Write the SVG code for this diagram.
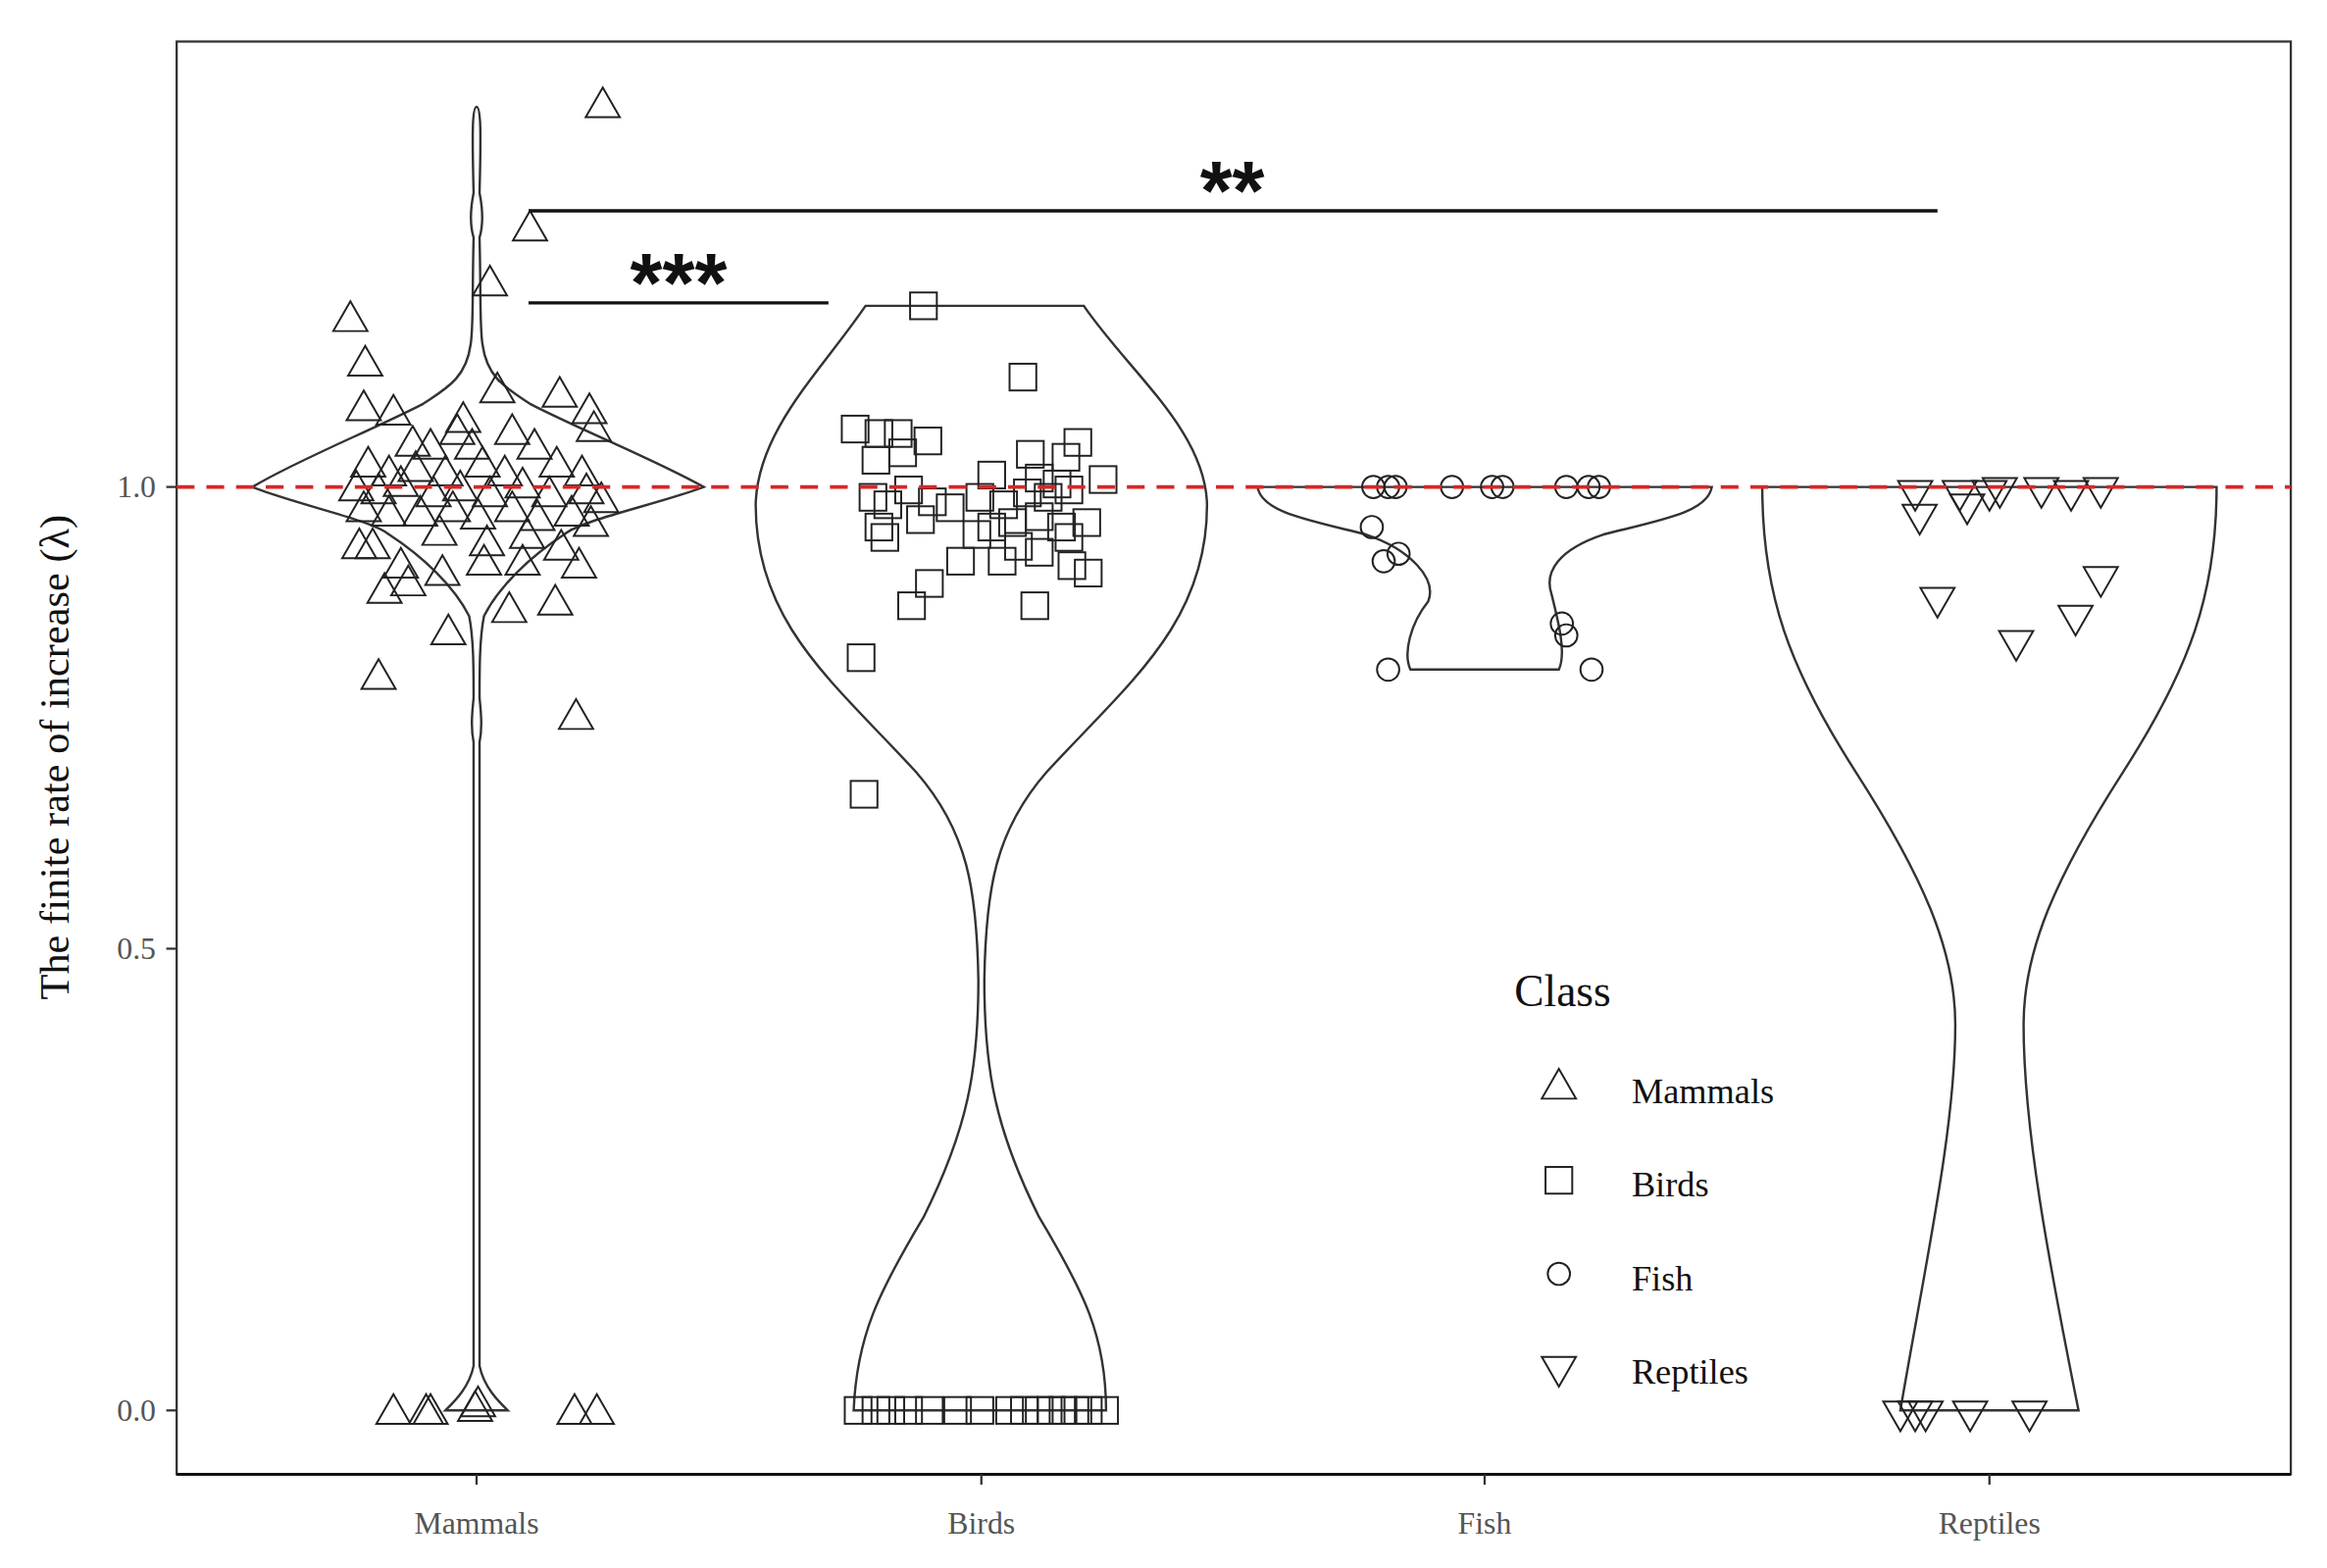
<svg xmlns="http://www.w3.org/2000/svg" xmlns:xlink="http://www.w3.org/1999/xlink" width="2373" height="1599" viewBox="0 0 2373 1599">
<style>
.ax{font-family:"Liberation Serif",serif;fill:#555;font-size:21px}
.lab{font-family:"Liberation Serif",serif;fill:#111}
.v{fill:none;stroke:#333;stroke-width:1.6}
.p{fill:none;stroke:#222;stroke-width:1.3}
.br{stroke:#111;stroke-width:2.2}
.st{font-family:"Liberation Sans",sans-serif;font-weight:bold;font-size:56px;fill:#111}
</style>
<defs>
<polygon id="tu" class="p" points="0,-11 -11.5,9 11.5,9"/>
<polygon id="td" class="p" points="0,11 -11.5,-9 11.5,-9"/>
<rect id="sq" class="p" x="-9" y="-9" width="18" height="18"/>
<circle id="ci" class="p" r="7.5"/>
</defs>
<rect width="2373" height="1599" fill="#fff"/>
<g transform="scale(1.514)">
<g id="axes">
<rect x="119" y="28" width="1424" height="965" fill="none" stroke="#333" stroke-width="1.5"/>
<line x1="119" y1="993" x2="1543" y2="993" stroke="#111" stroke-width="2"/>
<g stroke="#333" stroke-width="1.5">
<line x1="112" y1="328" x2="119" y2="328"/><line x1="112" y1="639" x2="119" y2="639"/><line x1="112" y1="950" x2="119" y2="950"/>
<line x1="321" y1="993" x2="321" y2="1000"/><line x1="661" y1="993" x2="661" y2="1000"/><line x1="1000" y1="993" x2="1000" y2="1000"/><line x1="1340" y1="993" x2="1340" y2="1000"/>
</g>
<text class="ax" x="105" y="335" text-anchor="end">1.0</text>
<text class="ax" x="105" y="646" text-anchor="end">0.5</text>
<text class="ax" x="105" y="957" text-anchor="end">0.0</text>
<text class="ax" x="321" y="1033" text-anchor="middle">Mammals</text>
<text class="ax" x="661" y="1033" text-anchor="middle">Birds</text>
<text class="ax" x="1000" y="1033" text-anchor="middle">Fish</text>
<text class="ax" x="1340" y="1033" text-anchor="middle">Reptiles</text>
<text class="lab" font-size="28" transform="translate(46,510) rotate(-90)" text-anchor="middle">The finite rate of increase (λ)</text>
</g>
<g id="violins">
<path id="v-mammals" class="v" d="M321,72 C318,72 318,90 319,130 C317,140 316,150 319,160 C318,200 319,220 317,232 C314,255 300,262 285,272 C250,290 200,310 170,328 C200,340 250,350 262,360 C285,375 306,395 316,415 C319,430 319,450 319,470 C318,480 317,490 319,500 C319,600 319,800 319,920 C316,935 305,945 300,950 L342,950 C337,945 326,935 323,920 C323,800 323,600 323,500 C325,490 324,480 323,470 C323,450 323,430 326,415 C336,395 357,375 380,360 C392,350 442,340 474,328 C442,310 392,290 357,272 C342,262 328,255 325,232 C323,220 324,200 323,160 C326,150 325,140 323,130 C324,90 324,72 321,72 Z"/>
<path id="v-birds" class="v" d="M583,206 L730,206 C760,250 812,290 813,340 C813,420 760,460 705,520 C670,560 664,600 663,660 C663,720 670,760 700,820 C730,870 745,900 745,950 L575,950 C577,900 592,870 622,820 C652,760 659,720 659,660 C658,600 652,560 617,520 C562,460 509,420 509,340 C510,290 553,250 583,206 Z"/>
<path id="v-fish" class="v" d="M847,328 L1153,328 C1150,345 1120,350 1080,360 C1050,370 1040,385 1045,400 C1050,420 1055,440 1050,451 L950,451 C945,440 950,420 962,405 C968,390 950,370 920,360 C880,350 850,345 847,328 Z"/>
<path id="v-reptiles" class="v" d="M1187,328 L1493,328 C1493,400 1475,450 1430,520 C1385,590 1363,640 1363,690 C1363,760 1380,850 1400,950 L1280,950 C1297,850 1317,760 1317,690 C1317,640 1295,590 1250,520 C1205,450 1187,400 1187,328 Z"/>
</g>
<g id="points-mammals">
<use href="#tu" x="406" y="70"/><use href="#tu" x="357" y="153"/><use href="#tu" x="330" y="190"/><use href="#tu" x="236" y="214"/><use href="#tu" x="246" y="244"/><use href="#tu" x="245" y="274"/><use href="#tu" x="265" y="277"/><use href="#tu" x="377" y="265"/><use href="#tu" x="397" y="276"/><use href="#tu" x="400" y="288"/><use href="#tu" x="255" y="455"/><use href="#tu" x="388" y="482"/><use href="#tu" x="302" y="425"/><use href="#tu" x="343" y="410"/><use href="#tu" x="374" y="405"/><use href="#tu" x="259" y="397"/><use href="#tu" x="275" y="392"/><use href="#tu" x="298" y="385"/><use href="#tu" x="242" y="367"/><use href="#tu" x="251" y="367"/>
<use href="#tu" x="265" y="950"/><use href="#tu" x="287" y="950"/><use href="#tu" x="290" y="950"/><use href="#tu" x="320" y="948"/><use href="#tu" x="322" y="945"/><use href="#tu" x="387" y="950"/><use href="#tu" x="402" y="950"/>
<use href="#tu" x="335" y="262"/><use href="#tu" x="312" y="282"/><use href="#tu" x="345" y="290"/><use href="#tu" x="290" y="300"/><use href="#tu" x="318" y="300"/><use href="#tu" x="360" y="300"/><use href="#tu" x="248" y="312"/><use href="#tu" x="262" y="318"/><use href="#tu" x="280" y="315"/><use href="#tu" x="300" y="318"/><use href="#tu" x="325" y="312"/><use href="#tu" x="340" y="318"/><use href="#tu" x="375" y="312"/><use href="#tu" x="392" y="318"/><use href="#tu" x="240" y="328"/><use href="#tu" x="255" y="330"/><use href="#tu" x="270" y="325"/><use href="#tu" x="292" y="332"/><use href="#tu" x="310" y="328"/><use href="#tu" x="330" y="332"/><use href="#tu" x="352" y="326"/><use href="#tu" x="370" y="332"/><use href="#tu" x="395" y="330"/><use href="#tu" x="405" y="336"/><use href="#tu" x="245" y="342"/><use href="#tu" x="262" y="345"/><use href="#tu" x="283" y="345"/><use href="#tu" x="305" y="342"/><use href="#tu" x="322" y="347"/><use href="#tu" x="345" y="342"/><use href="#tu" x="362" y="348"/><use href="#tu" x="385" y="345"/><use href="#tu" x="398" y="352"/><use href="#tu" x="296" y="358"/><use href="#tu" x="328" y="365"/><use href="#tu" x="355" y="360"/><use href="#tu" x="378" y="368"/><use href="#tu" x="390" y="380"/><use href="#tu" x="270" y="380"/><use href="#tu" x="326" y="378"/><use href="#tu" x="352" y="378"/><use href="#tu" x="308" y="290"/><use href="#tu" x="278" y="298"/>
</g>
<g id="points-birds">
<use href="#sq" x="622" y="206"/><use href="#sq" x="689" y="254"/><use href="#sq" x="576" y="289"/><use href="#sq" x="592" y="292"/><use href="#sq" x="605" y="292"/><use href="#sq" x="625" y="297"/><use href="#sq" x="726" y="298"/><use href="#sq" x="694" y="306"/><use href="#sq" x="718" y="308"/><use href="#sq" x="580" y="443"/><use href="#sq" x="582" y="535"/><use href="#sq" x="614" y="408"/><use href="#sq" x="626" y="393"/><use href="#sq" x="697" y="408"/><use href="#sq" x="733" y="386"/><use href="#sq" x="722" y="381"/><use href="#sq" x="647" y="378"/>
<use href="#sq" x="590" y="310"/><use href="#sq" x="608" y="305"/><use href="#sq" x="668" y="320"/><use href="#sq" x="700" y="322"/><use href="#sq" x="712" y="326"/><use href="#sq" x="743" y="323"/><use href="#sq" x="588" y="335"/><use href="#sq" x="598" y="340"/><use href="#sq" x="612" y="330"/><use href="#sq" x="628" y="338"/><use href="#sq" x="640" y="342"/><use href="#sq" x="660" y="335"/><use href="#sq" x="676" y="340"/><use href="#sq" x="692" y="332"/><use href="#sq" x="706" y="335"/><use href="#sq" x="720" y="330"/><use href="#sq" x="732" y="352"/><use href="#sq" x="592" y="355"/><use href="#sq" x="596" y="362"/><use href="#sq" x="620" y="350"/><use href="#sq" x="658" y="360"/><use href="#sq" x="668" y="355"/><use href="#sq" x="682" y="352"/><use href="#sq" x="700" y="348"/><use href="#sq" x="715" y="355"/><use href="#sq" x="686" y="368"/><use href="#sq" x="700" y="372"/><use href="#sq" x="675" y="378"/><use href="#sq" x="720" y="362"/>
<use href="#sq" x="578" y="950"/><use href="#sq" x="590" y="950"/><use href="#sq" x="600" y="950"/><use href="#sq" x="612" y="950"/><use href="#sq" x="626" y="950"/><use href="#sq" x="645" y="950"/><use href="#sq" x="660" y="950"/><use href="#sq" x="680" y="950"/><use href="#sq" x="690" y="950"/><use href="#sq" x="700" y="950"/><use href="#sq" x="708" y="950"/><use href="#sq" x="716" y="950"/><use href="#sq" x="724" y="950"/><use href="#sq" x="733" y="950"/><use href="#sq" x="744" y="950"/>
</g>
<g id="points-fish">
<use href="#ci" x="925" y="328"/><use href="#ci" x="935" y="328"/><use href="#ci" x="940" y="328"/><use href="#ci" x="978" y="328"/><use href="#ci" x="1005" y="328"/><use href="#ci" x="1012" y="328"/><use href="#ci" x="1055" y="328"/><use href="#ci" x="1070" y="328"/><use href="#ci" x="1077" y="328"/><use href="#ci" x="924" y="355"/><use href="#ci" x="932" y="378"/><use href="#ci" x="942" y="373"/><use href="#ci" x="1052" y="420"/><use href="#ci" x="1055" y="428"/><use href="#ci" x="935" y="451"/><use href="#ci" x="1072" y="451"/>
</g>
<g id="points-reptiles">
<use href="#td" x="1290" y="333"/><use href="#td" x="1293" y="349"/><use href="#td" x="1320" y="333"/><use href="#td" x="1325" y="342"/><use href="#td" x="1340" y="333"/><use href="#td" x="1347" y="331"/><use href="#td" x="1375" y="331"/><use href="#td" x="1395" y="333"/><use href="#td" x="1415" y="331"/><use href="#td" x="1305" y="405"/><use href="#td" x="1415" y="391"/><use href="#td" x="1358" y="434"/><use href="#td" x="1398" y="417"/><use href="#td" x="1280" y="953"/><use href="#td" x="1290" y="953"/><use href="#td" x="1297" y="953"/><use href="#td" x="1327" y="953"/><use href="#td" x="1367" y="953"/>
</g>
<line id="ref-line" x1="119" y1="328" x2="1543" y2="328" stroke="#d62728" stroke-width="2.5" stroke-dasharray="12,8"/>
<g id="significance">
<line class="br" x1="356" y1="142" x2="1305" y2="142"/>
<text class="st" x="830" y="148" text-anchor="middle">**</text>
<line class="br" x1="356" y1="204" x2="558" y2="204"/>
<text class="st" x="457" y="210" text-anchor="middle">***</text>
</g>
<g id="legend">
<text class="lab" font-size="30" x="1020" y="678">Class</text>
<use href="#tu" x="1050" y="731"/><text class="lab" font-size="24" x="1099" y="743">Mammals</text>
<use href="#sq" x="1050" y="795"/><text class="lab" font-size="24" x="1099" y="806">Birds</text>
<use href="#ci" x="1050" y="858"/><text class="lab" font-size="24" x="1099" y="869">Fish</text>
<use href="#td" x="1050" y="923"/><text class="lab" font-size="24" x="1099" y="932">Reptiles</text>
</g>
</g>
</svg>
